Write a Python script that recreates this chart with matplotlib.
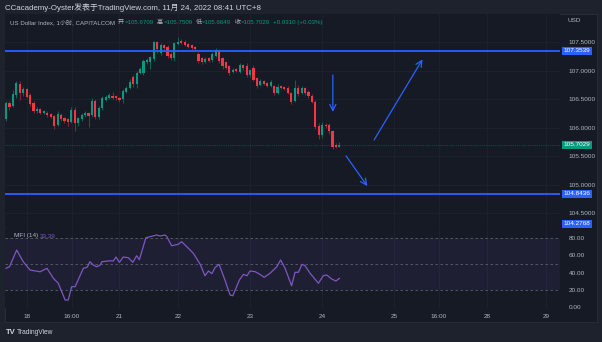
import numpy as np
import matplotlib
matplotlib.use('Agg')
import matplotlib.pyplot as plt
from matplotlib.patches import Rectangle

plt.rcParams['font.family'] = ['Liberation Sans', 'Noto Sans CJK SC', 'DejaVu Sans']

# hourly candles (bar index 0 = first visible bar)
opens = [106.15, 106.44, 106.39, 106.58, 106.78, 106.61, 106.68, 106.58, 106.43, 106.29,
         106.33, 106.26, 106.27, 106.24, 106.21, 106.05, 106.23, 106.18, 106.15, 106.11,
         106.32, 106.08, 106.16, 106.22, 106.26, 106.23, 106.48, 106.20, 106.35, 106.49,
         106.53, 106.56, 106.56, 106.53, 106.50, 106.64, 106.70, 106.90, 106.77, 106.96,
         106.97, 107.16, 107.16, 107.21, 107.50, 107.32, 107.46, 107.42, 107.30, 107.22,
         107.47, 107.53, 107.50, 107.47, 107.46, 107.42, 107.30, 107.22, 107.16, 107.22,
         107.19, 107.26, 107.36, 107.22, 107.15, 107.08, 106.99, 107.03, 106.99, 107.11,
         107.08, 106.93, 107.05, 106.87, 106.75, 106.83, 106.79, 106.74, 106.74, 106.61,
         106.74, 106.72, 106.71, 106.62, 106.47, 106.71, 106.61, 106.70, 106.64, 106.57,
         106.46, 106.04, 105.88, 106.06, 106.06, 105.95, 105.70, 105.6709]
closes = [106.44, 106.36, 106.59, 106.79, 106.61, 106.68, 106.55, 106.42, 106.30, 106.33,
          106.26, 106.29, 106.22, 106.20, 106.04, 106.25, 106.15, 106.13, 106.11, 106.32,
          106.08, 106.17, 106.23, 106.27, 106.21, 106.48, 106.19, 106.35, 106.52, 106.55,
          106.58, 106.53, 106.52, 106.49, 106.65, 106.71, 106.81, 106.77, 106.97, 107.03,
          107.18, 107.20, 107.24, 107.51, 107.38, 107.46, 107.40, 107.26, 107.22, 107.49,
          107.51, 107.49, 107.46, 107.42, 107.40, 107.38, 107.18, 107.16, 107.21, 107.18,
          107.30, 107.36, 107.18, 107.08, 107.06, 106.96, 107.02, 107.00, 107.11, 107.05,
          106.93, 107.01, 106.85, 106.74, 106.83, 106.78, 106.74, 106.81, 106.61, 106.72,
          106.71, 106.68, 106.62, 106.46, 106.71, 106.60, 106.71, 106.61, 106.56, 106.46,
          106.02, 105.88, 106.05, 106.03, 105.94, 105.66, 105.67, 105.7029]
highs = [106.47, 106.47, 106.67, 106.83, 106.82, 106.72, 106.71, 106.61, 106.47, 106.36,
         106.35, 106.31, 106.29, 106.26, 106.23, 106.29, 106.26, 106.20, 106.17, 106.36,
         106.36, 106.20, 106.26, 106.30, 106.28, 106.52, 106.50, 106.38, 106.56, 106.58,
         106.61, 106.64, 106.58, 106.55, 106.68, 106.74, 106.86, 106.93, 107.00, 107.07,
         107.21, 107.23, 107.26, 107.53, 107.53, 107.49, 107.48, 107.45, 107.33, 107.51,
         107.60, 107.57, 107.54, 107.49, 107.48, 107.44, 107.33, 107.24, 107.24, 107.24,
         107.33, 107.40, 107.38, 107.24, 107.17, 107.10, 107.05, 107.05, 107.14, 107.13,
         107.14, 107.04, 107.10, 106.89, 106.86, 106.85, 106.81, 106.84, 106.76, 106.78,
         106.76, 106.74, 106.73, 106.64, 106.84, 106.75, 106.73, 106.72, 106.66, 106.59,
         106.49, 106.08, 106.11, 106.08, 106.08, 105.96, 105.73, 105.7509]
lows = [106.13, 106.32, 106.36, 106.53, 106.49, 106.57, 106.52, 106.38, 106.27, 106.26,
        106.24, 106.24, 106.19, 106.17, 105.99, 106.03, 106.12, 106.08, 106.03, 106.08,
        105.94, 106.03, 106.13, 106.20, 106.02, 106.19, 106.15, 106.16, 106.32, 106.47,
        106.51, 106.51, 106.49, 106.46, 106.44, 106.62, 106.68, 106.72, 106.71, 106.94,
        106.93, 107.13, 107.03, 107.18, 107.31, 107.28, 107.37, 107.22, 107.19, 107.18,
        107.45, 107.47, 107.44, 107.40, 107.37, 107.35, 107.14, 107.12, 107.14, 107.15,
        107.15, 107.24, 107.14, 107.04, 107.03, 106.93, 106.97, 106.98, 106.97, 107.02,
        106.90, 106.90, 106.82, 106.70, 106.73, 106.76, 106.72, 106.72, 106.58, 106.59,
        106.69, 106.66, 106.60, 106.42, 106.45, 106.57, 106.59, 106.58, 106.53, 106.43,
        105.99, 105.80, 105.82, 106.00, 105.90, 105.63, 105.65, 105.6649]

# MFI (14) vertices, in bar units
mfi_x = [0.0, 1.0, 3.1, 5.0, 7.0, 9.9, 11.9, 13.8, 15.2, 17.2, 18.1, 19.1, 20.1, 22.5, 23.3,
         23.7, 24.4, 25.4, 26.4, 27.4, 27.9, 30.3, 31.2, 32.0, 33.0, 34.1, 35.6, 36.9, 38.0,
         38.8, 40.7, 43.9, 44.8, 46.3, 46.8, 48.2, 50.1, 51.1, 52.6, 54.5, 56.5, 57.9, 58.9,
         59.9, 60.8, 62.0, 63.7, 65.2, 66.0, 67.9, 69.1, 70.1, 71.0, 72.5, 73.9, 75.1, 76.8,
         78.8, 79.9, 81.2, 83.1, 84.1, 85.1, 86.1, 87.0, 88.5, 90.9, 92.3, 93.3, 94.8, 96.0, 97.0]
mfi_v = [45.0, 46.8, 66.0, 52.6, 43.0, 41.0, 45.0, 33.4, 27.7, 8.4, 8.4, 23.8, 23.8, 45.0, 45.7,
         46.8, 52.6, 48.8, 46.8, 48.8, 52.6, 53.7, 53.4, 58.0, 51.9, 58.0, 57.2, 51.9, 59.5,
         54.9, 80.3, 83.4, 82.2, 83.4, 81.4, 71.0, 72.7, 75.7, 69.9, 62.3, 49.6, 36.4, 41.9,
         38.8, 45.7, 49.6, 31.5, 14.2, 13.4, 31.5, 38.0, 36.4, 41.9, 41.1, 38.0, 34.6, 39.2,
         46.8, 54.6, 45.0, 24.9, 40.4, 40.4, 49.6, 48.0, 39.2, 27.7, 36.4, 37.3, 32.6, 30.3, 33.39]

time_pos = [6.1, 19.2, 32.9, 50.1, 71.0, 92.0, 113.0, 126.0, 140.0, 157.1]
time_lbl = ['18', '16:00', '21', '22', '23', '24', '25', '16:00', '28', '29']
price_ticks = [104.5, 105.0, 105.5, 106.0, 106.5, 107.0, 107.5]
mfi_ticks = [0, 20, 40, 60, 80]

levels = [107.3539, 104.8436]
last_price = 105.7029
low_label = 104.2768

# drawn arrows: (x0, y0, x1, y1) in bar / price units
arrows = [(95.1, 106.93, 95.1, 106.28),
          (107.1, 105.79, 121.2, 107.205),
          (98.95, 105.51, 105.15, 104.98)]

UP, DOWN = '#089981', '#f23645'
BLUE = '#2962ff'
BG, FRAME = '#161a25', '#1e222d'
TXT = '#b2b5be'

W, H = 602, 342
fig = plt.figure(figsize=(W / 100, H / 100), dpi=100, facecolor=FRAME)
fig.patches.append(Rectangle((5 / W, 1 - 322 / H), 592 / W, 308 / H, transform=fig.transFigure,
                             facecolor=BG, edgecolor='#2a2e39', lw=0.6, zorder=-1))

ax = fig.add_axes([5 / W, 1 - 227 / H, 555 / W, 213 / H], facecolor=BG)
ax2 = fig.add_axes([5 / W, 1 - 308 / H, 555 / W, 80 / H], facecolor=BG, sharex=ax)
xlim = (-0.3, 161.2)

for a in (ax, ax2):
    for s in a.spines.values():
        s.set_visible(False)
    for p in time_pos:
        a.axvline(p, color='#1f2330', lw=0.6, zorder=0)

# price pane
for p in price_ticks:
    ax.axhline(p, color='#1f2330', lw=0.6, zorder=0)
idx = np.arange(len(opens))
o, c, h, l = map(np.array, (opens, closes, highs, lows))
up = c >= o
wick_col = np.where(up, '#0b6157', '#7e2631')
body_col = np.where(up, UP, DOWN)
ax.vlines(idx, l, h, colors=wick_col, lw=0.8, zorder=2)
ax.bar(idx, np.maximum(np.abs(c - o), 0.01), bottom=np.minimum(o, c), width=0.62,
       color=body_col, zorder=3, linewidth=0)

for lv in levels:
    ax.axhline(lv, color=BLUE, lw=1.3, zorder=4)
ax.axhline(last_price, color=UP, lw=0.5, ls=':', alpha=0.7, zorder=1)

for x0, y0, x1, y1 in arrows:
    ax.annotate('', xy=(x1, y1), xytext=(x0, y0),
                arrowprops=dict(arrowstyle='->,head_length=0.45,head_width=0.22', color=BLUE,
                                lw=0.9, shrinkA=0, shrinkB=0, mutation_scale=10), zorder=5)

ax.set_xlim(*xlim)
ax.set_ylim(104.263, 108.0)
ax.yaxis.tick_right()
ax.set_yticks(price_ticks)
ax.set_yticklabels([f'{p:.4f}' for p in price_ticks])
ax.tick_params(axis='y', length=0, pad=6, labelsize=4.6, labelcolor=TXT)
ax.tick_params(axis='x', length=0, labelbottom=False)

def price_tag(y, txt, color, va='center'):
    ax.text(1.006, y, txt, transform=ax.get_yaxis_transform(), ha='left', va=va,
            fontsize=4.6, color='white', clip_on=False, zorder=6,
            bbox=dict(boxstyle='square,pad=0.25', facecolor=color, edgecolor='none'))

price_tag(levels[0], f'{levels[0]:.4f}', BLUE)
price_tag(levels[1], f'{levels[1]:.4f}', BLUE)
price_tag(last_price, f'{last_price:.4f}', UP)
price_tag(low_label, f'{low_label:.4f}', BLUE, va='bottom')

# MFI pane
ax2.axhspan(20, 80, color='#7e57c2', alpha=0.09, lw=0, zorder=0)
for lv in (80, 50, 20):
    ax2.axhline(lv, color='#5d606b', lw=0.6, ls=(0, (3, 3)), zorder=1)
ax2.plot(mfi_x, mfi_v, color='#7e57c2', lw=0.9, zorder=3)
ax2.set_ylim(-0.8, 91.5)
ax2.yaxis.tick_right()
ax2.set_yticks(mfi_ticks)
ax2.set_yticklabels([f'{v:.2f}' for v in mfi_ticks])
ax2.set_xticks(time_pos)
ax2.set_xticklabels(time_lbl)
ax2.tick_params(axis='y', length=0, pad=6, labelsize=4.6, labelcolor=TXT)
ax2.tick_params(axis='x', length=0, pad=4, labelsize=4.6, labelcolor=TXT)
ax2.set_xlim(*xlim)
ax2.text(9 / 555, 0.9, 'MFI (14)', transform=ax2.transAxes, fontsize=4.6, color=TXT, va='center')
ax2.text(35 / 555, 0.9, '33.39', transform=ax2.transAxes, fontsize=4.6, color='#7e57c2', va='center')

# header texts
def ftext(x, y, s, **kw):
    return fig.text(x / W, 1 - y / H, s, va='center', ha='left', **kw)

ftext(5, 7.5, 'CCacademy-Oyster发表于TradingView.com, 11月 24, 2022 08:41 UTC+8',
      fontsize=5.7, color='#d1d4dc')

# legend row, laid out piece by piece so nothing overlaps
legend_parts = [('US Dollar Index, 1小时, CAPITALCOM', TXT, 0),
                ('开', TXT, 3), ('=105.6709', UP, 0.5),
                ('高', TXT, 3), ('=105.7509', UP, 0.5),
                ('低', TXT, 3), ('=105.6649', UP, 0.5),
                ('收', TXT, 3), ('=105.7029', UP, 0.5),
                ('+0.0310 (+0.03%)', UP, 3)]
renderer = fig.canvas.get_renderer()
xpos = 10
for s, col, gap in legend_parts:
    xpos += gap
    t = ftext(xpos, 22.5, s, fontsize=4.4, color=col)
    xpos += t.get_window_extent(renderer).width

ftext(567, 21, 'USD', fontsize=4.6, color=TXT)
ftext(6, 333, 'TV', fontsize=5.5, color='#d1d4dc', fontweight='bold')
ftext(17, 333, 'TradingView', fontsize=4.8, color='#d1d4dc')

fig.savefig('out.png', dpi=100, facecolor=FRAME)
